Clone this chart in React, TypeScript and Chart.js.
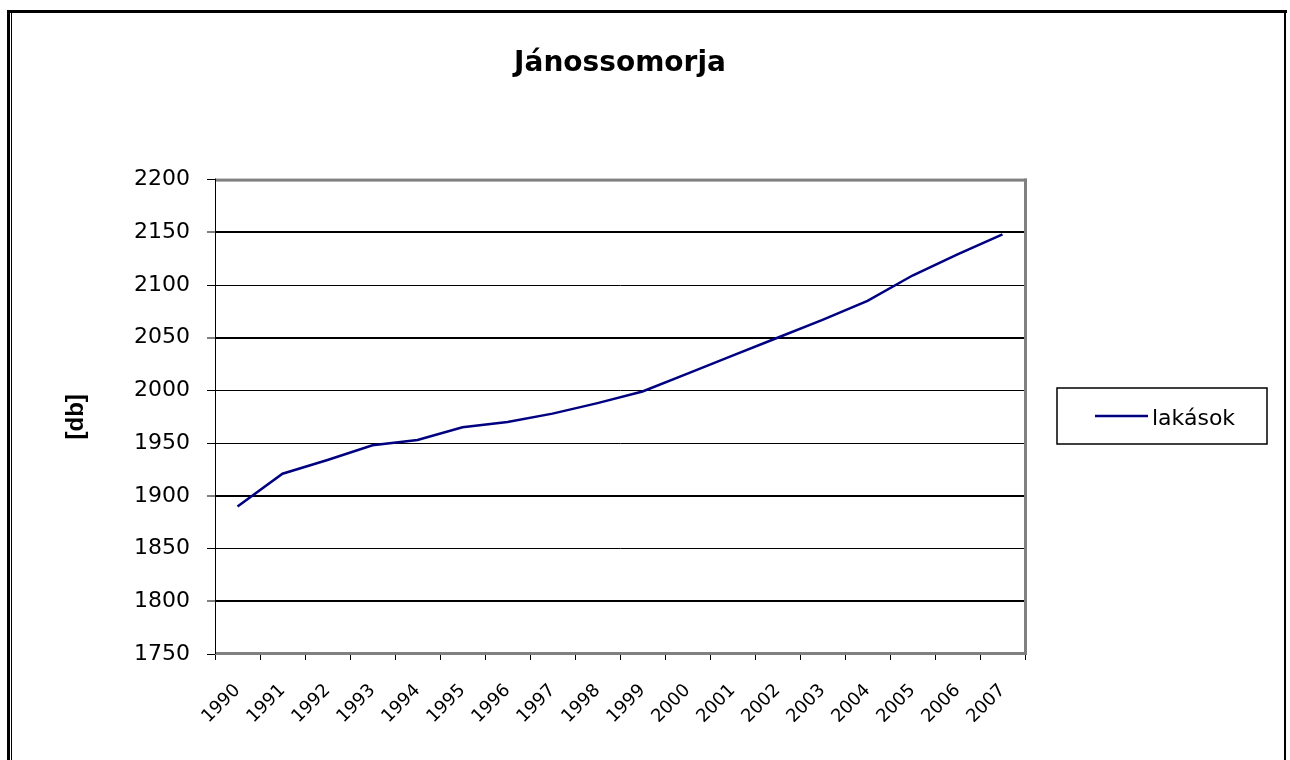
import React, { useEffect, useRef } from "react";
import { Chart, registerables } from "chart.js";

Chart.register(...registerables);

const chartTitle = "Jánossomorja";
const yAxisTitle = "[db]";
const seriesLabel = "lakások";
const years = ["1990", "1991", "1992", "1993", "1994", "1995", "1996", "1997", "1998", "1999", "2000", "2001", "2002", "2003", "2004", "2005", "2006", "2007"];
const lakasok = [1890, 1921, 1934, 1948, 1953, 1965, 1970, 1978, 1988, 1999, 2016, 2033, 2050, 2067, 2085, 2109, 2129, 2148];
const yMin = 1750;
const yMax = 2200;
const yStep = 50;
const boldGridValues = [2150, 2050, 1900, 1800];

const LINE_COLOR = "#000080";

const framePlugin = {
  id: "frameAndLegend",
  beforeDatasetsDraw(chart: any) {
    const { ctx, chartArea } = chart;
    const { left, right, top, bottom } = chartArea;
    ctx.save();
    ctx.fillStyle = "#808080";
    ctx.fillRect(left, top - 1, right - left + 2, 3);
    ctx.fillRect(right - 1, top - 1, 3, bottom - top + 2);
    ctx.fillRect(left, bottom - 2, right - left + 2, 3);
    ctx.fillStyle = "#000";
    ctx.fillRect(left, top - 1, 1, bottom - top + 1);
    ctx.restore();
  },
  afterDraw(chart: any) {
    const { ctx } = chart;
    ctx.save();
    ctx.fillStyle = "#000";
    ctx.fillRect(7, 10, 3, 760);
    ctx.fillRect(11, 13, 1, 760);
    ctx.fillRect(7, 10, 1280, 3);
    ctx.fillRect(1284, 10, 2, 760);
    const bx = 1057, by = 388, bw = 210, bh = 56;
    ctx.strokeStyle = "#000";
    ctx.lineWidth = 1.5;
    ctx.strokeRect(bx, by, bw, bh);
    const ds = chart.data.datasets[0];
    const ly = by + 28;
    ctx.strokeStyle = ds.borderColor;
    ctx.lineWidth = 2.5;
    ctx.beginPath();
    ctx.moveTo(1095, ly);
    ctx.lineTo(1148, ly);
    ctx.stroke();
    ctx.fillStyle = "#000";
    ctx.font = "22px 'DejaVu Sans'";
    ctx.textBaseline = "alphabetic";
    ctx.textAlign = "left";
    ctx.fillText(ds.label, 1152, 425);
    ctx.restore();
  },
};

export default function App() {
  const canvasRef = useRef<HTMLCanvasElement | null>(null);

  useEffect(() => {
    if (!canvasRef.current) return;
    const chart = new Chart(canvasRef.current, {
      type: "line",
      data: {
        labels: years,
        datasets: [
          {
            label: seriesLabel,
            data: lakasok,
            borderColor: LINE_COLOR,
            backgroundColor: LINE_COLOR,
            borderWidth: 2.5,
            pointRadius: 0,
            tension: 0,
            fill: false,
          },
        ],
      },
      options: {
        animation: false,
        responsive: false,
        maintainAspectRatio: false,
        layout: { padding: { left: 0, right: 265, top: 0, bottom: 0 } },
        plugins: {
          legend: { display: false },
          tooltip: { enabled: false },
          title: {
            display: true,
            text: chartTitle,
            fullSize: false,
            color: "#000",
            font: { family: "'DejaVu Sans'", size: 28, weight: "bold", lineHeight: 1.2 },
            padding: { top: 47, bottom: 99 },
          },
        },
        scales: {
          x: {
            type: "category",
            offset: true,
            afterFit: (scale: any) => {
              scale.height = 106;
            },
            grid: {
              offset: true,
              drawOnChartArea: false,
              drawTicks: true,
              tickLength: 6,
              color: "#000",
              lineWidth: 1,
            },
            border: { display: false },
            ticks: {
              autoSkip: false,
              maxRotation: 45,
              minRotation: 45,
              padding: 20,
              color: "#000",
              font: { family: "'DejaVu Sans'", size: 18 },
            },
          },
          y: {
            min: yMin,
            max: yMax,
            afterFit: (scale: any) => {
              scale.width = 215;
            },
            grid: {
              color: "#000",
              lineWidth: (c: any) => (boldGridValues.includes(c.tick?.value) ? 2 : 1),
              tickLength: 8,
              tickColor: "#000",
              tickWidth: 1,
            },
            border: { display: true, color: "#000", width: 1 },
            ticks: {
              stepSize: yStep,
              padding: 17,
              color: "#000",
              font: { family: "'DejaVu Sans'", size: 22 },
              callback: (v: any) => String(v),
            },
            title: {
              display: true,
              text: yAxisTitle,
              color: "#000",
              font: { family: "'Liberation Sans'", size: 24, weight: "bold", lineHeight: 1.2 },
              padding: { top: 62, bottom: 0 },
            },
          },
        },
      },
      plugins: [framePlugin],
    });
    return () => chart.destroy();
  }, []);

  return (
    <div style={{ position: "absolute", left: 0, top: 0, width: 1290, height: 760, background: "#fff" }}>
      <canvas ref={canvasRef} width={1290} height={760} style={{ display: "block" }} />
    </div>
  );
}
